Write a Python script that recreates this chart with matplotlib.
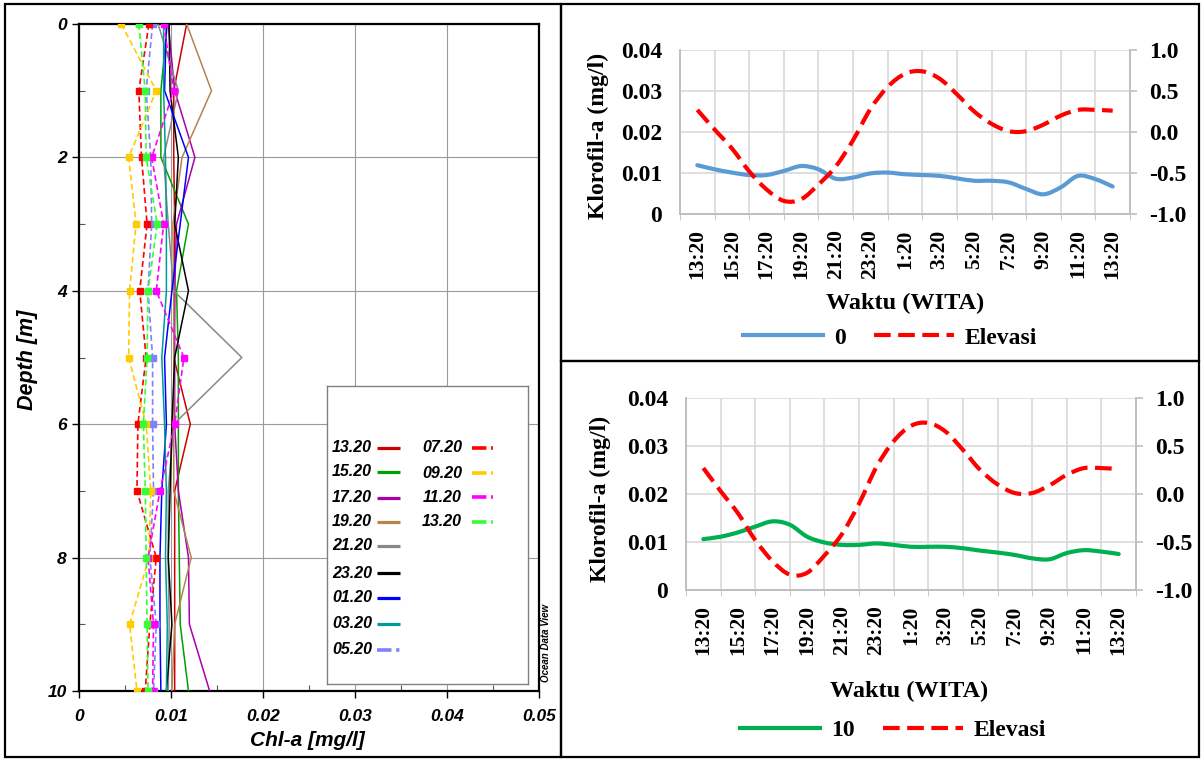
import matplotlib
matplotlib.use("Agg")
import matplotlib.pyplot as plt
from matplotlib.patches import Rectangle, PathPatch
from matplotlib.path import Path
from matplotlib.lines import Line2D

plt.rcParams['axes.unicode_minus'] = False

W, H = 1202, 760

# ---- vertical profiles (left panel), chl-a [mg/l] at each depth ----
depth = [0, 1, 2, 3, 4, 5, 6, 7, 8, 9, 10]

p_1320 = [0.0117, 0.0103, 0.0103, 0.0104, 0.0104, 0.0103, 0.0121, 0.0104, 0.0104, 0.0104, 0.0104]
p_1520 = [0.0096, 0.0089, 0.0089, 0.0119, 0.0106, 0.0108, 0.0108, 0.0108, 0.0109, 0.0110, 0.0119]
p_1720 = [0.0097, 0.0104, 0.0126, 0.0106, 0.0104, 0.0104, 0.0104, 0.0108, 0.0119, 0.0120, 0.0142]
p_1920 = [0.0117, 0.0144, 0.0112, 0.0102, 0.0103, 0.0103, 0.0103, 0.0103, 0.0122, 0.0104, 0.0101]
p_2120 = [0.0086, 0.0108, 0.0092, 0.0097, 0.0103, 0.0177, 0.0103, 0.0097, 0.0097, 0.0098, 0.0097]
p_2320 = [0.0098, 0.0099, 0.0108, 0.0104, 0.0119, 0.0104, 0.0101, 0.0099, 0.0097, 0.0101, 0.0095]
p_0120 = [0.0095, 0.0093, 0.0119, 0.0110, 0.0101, 0.0093, 0.0095, 0.0090, 0.0088, 0.0088, 0.0089]
p_0320 = [0.0092, 0.0092, 0.0094, 0.0095, 0.0095, 0.0090, 0.0093, 0.0095, 0.0094, 0.0096, 0.0095]
p_0520 = [0.0080, 0.0073, 0.0078, 0.0079, 0.0075, 0.0080, 0.0080, 0.0081, 0.0077, 0.0084, 0.0081]
p_0720 = [0.0076, 0.0065, 0.0068, 0.0074, 0.0066, 0.0073, 0.0064, 0.0063, 0.0084, 0.0077, 0.0072]
p_0920 = [0.0046, 0.0084, 0.0054, 0.0062, 0.0055, 0.0054, 0.0073, 0.0078, 0.0076, 0.0055, 0.0063]
p_1120 = [0.0092, 0.0103, 0.0079, 0.0092, 0.0084, 0.0114, 0.0104, 0.0088, 0.0075, 0.0081, 0.0080]
p_1320b = [0.0065, 0.0072, 0.0073, 0.0085, 0.0075, 0.0074, 0.0070, 0.0072, 0.0073, 0.0074, 0.0075]

profile_labels = ["13.20", "15.20", "17.20", "19.20", "21.20", "23.20", "01.20",
                  "03.20", "05.20", "07.20", "09.20", "11.20", "13.20"]
chl_ticks = [0, 0.01, 0.02, 0.03, 0.04, 0.05]
chl_ticklabels = ["0", "0.01", "0.02", "0.03", "0.04", "0.05"]
depth_ticks = [0, 2, 4, 6, 8, 10]

# ---- time series (right panels), hourly from 13:20 ----
hours = list(range(25))
time_ticks = list(range(0, 25, 2))
time_labels = ["13:20", "15:20", "17:20", "19:20", "21:20", "23:20", "1:20",
               "3:20", "5:20", "7:20", "9:20", "11:20", "13:20"]
chl_0m = [0.0119, 0.0109, 0.0101, 0.0095, 0.0095, 0.0105, 0.0117, 0.0109, 0.0086,
          0.0089, 0.0099, 0.0101, 0.0097, 0.0095, 0.0093, 0.0087, 0.0081, 0.0081,
          0.0077, 0.0061, 0.0048, 0.0065, 0.0093, 0.0085, 0.0067]
chl_10m = [0.0106, 0.0111, 0.0120, 0.0132, 0.0143, 0.0136, 0.0111, 0.0099, 0.0094,
           0.0094, 0.0097, 0.0094, 0.0090, 0.0090, 0.0090, 0.0087, 0.0082, 0.0078,
           0.0073, 0.0066, 0.0064, 0.0077, 0.0083, 0.0080, 0.0075]
elevasi = [0.27, 0.03, -0.20, -0.48, -0.70, -0.84, -0.82, -0.64, -0.42, -0.10, 0.28,
           0.55, 0.71, 0.74, 0.65, 0.46, 0.25, 0.10, 0.01, 0.01, 0.09, 0.20, 0.27,
           0.27, 0.26]
klo_ticks = [0, 0.01, 0.02, 0.03, 0.04]
klo_ticklabels = ["0", "0.01", "0.02", "0.03", "0.04"]
elev_ticks = [-1.0, -0.5, 0.0, 0.5, 1.0]
elev_ticklabels = ["-1.0", "-0.5", "0.0", "0.5", "1.0"]


def box(x0, y0, x1, y1):
    return [x0 / W, 1 - y1 / H, (x1 - x0) / W, (y1 - y0) / H]


def smooth_path(x, y):
    # Excel-like smoothed line: Catmull-Rom segments drawn as cubic Beziers
    n = len(x)
    verts = [(x[0], y[0])]
    codes = [Path.MOVETO]
    for i in range(n - 1):
        x0, y0 = (x[i - 1], y[i - 1]) if i > 0 else (x[i], y[i])
        x3, y3 = (x[i + 2], y[i + 2]) if i + 2 < n else (x[i + 1], y[i + 1])
        c1 = (x[i] + (x[i + 1] - x0) / 6, y[i] + (y[i + 1] - y0) / 6)
        c2 = (x[i + 1] - (x3 - x[i]) / 6, y[i + 1] - (y3 - y[i]) / 6)
        verts += [c1, c2, (x[i + 1], y[i + 1])]
        codes += [Path.CURVE4] * 3
    return Path(verts, codes)


fig = plt.figure(figsize=(W / 100, H / 100), dpi=100)

# ================= left panel (ODV style profile plot) =================
odv = dict(family="Liberation Sans", weight="bold", style="italic")
profiles = [p_1320, p_1520, p_1720, p_1920, p_2120, p_2320, p_0120, p_0320,
            p_0520, p_0720, p_0920, p_1120, p_1320b]
pcolors = ["#CC0000", "#00A000", "#AA00AA", "#B5834E", "#888888", "#000000",
           "#0000FF", "#009999", "#8080FF", "#FF0000", "#FFCC00", "#FF00FF", "#33FF33"]
n_solid = 8

ax = fig.add_axes(box(79, 24, 539, 691))
for i, (vals, c) in enumerate(zip(profiles, pcolors)):
    if i < n_solid:
        ax.plot(vals, depth, color=c, lw=1.1, zorder=3)
    else:
        ax.plot(vals, depth, color=c, lw=1.2, ls=(0, (3.5, 2)), marker="s",
                ms=4.5, mec=c, mfc=c, zorder=4)

ax.set_xlim(0, 0.05)
ax.set_ylim(10, 0)
ax.set_xticks(chl_ticks)
ax.set_xticklabels(chl_ticklabels)
ax.set_yticks(depth_ticks)
ax.set_yticklabels([str(d) for d in depth_ticks])
ax.set_xticks([0.005, 0.015, 0.025, 0.035, 0.045], minor=True)
ax.set_yticks([1, 3, 5, 7, 9], minor=True)
ax.grid(True, which="major", color="#9A9A9A", lw=0.8, zorder=0)
ax.tick_params(which="major", direction="out", length=5, width=1, pad=8)
ax.tick_params(axis="y", which="major", pad=4)
ax.tick_params(which="minor", direction="in", length=4, width=0.8, color="#555555")
for lab in ax.get_xticklabels() + ax.get_yticklabels():
    lab.set_fontproperties(dict(odv, size=12.5))
for s in ax.spines.values():
    s.set_linewidth(1.6)
    s.set_color("black")

fig.text(307 / W, 1 - 741 / H, "Chl-a [mg/l]", ha="center", va="center", size=15, **odv)
fig.text(27 / W, 1 - 360 / H, "Depth [m]", ha="center", va="center", rotation=90,
         size=15.5, **odv)
fig.text(546 / W, 1 - 643 / H, "Ocean Data View", ha="center", va="center",
         rotation=90, size=7, **odv)

# legend box drawn by hand (ODV layout: text before sample)
lax = fig.add_axes(box(327, 386, 528, 684))
lax.set_xlim(327, 528)
lax.set_ylim(684, 386)
lax.set_xticks([])
lax.set_yticks([])
for s in lax.spines.values():
    s.set_color("#808080")
    s.set_linewidth(1)
rows_left = [448, 472, 498, 522, 546, 573, 598, 624, 650]
rows_right = [448, 473, 497, 522]
rows = [(372, 377, 400, y) for y in rows_left] + [(462, 472, 493, y) for y in rows_right]
for i, (lab, c, (tx, lx0, lx1, y)) in enumerate(zip(profile_labels, pcolors, rows)):
    lax.text(tx, y, lab, ha="right", va="center", size=11.5, **odv)
    if i < n_solid:
        lax.plot([lx0, lx1], [y, y], color=c, lw=2.3, solid_capstyle="butt")
    else:
        lax.plot([lx0, lx1], [y, y], color=c, lw=2.6, ls=(0, (4, 1.3, 0.9, 1.3)),
                 dash_capstyle="butt")

# ================= right panels (Excel style time series) =================
serif = dict(family="Liberation Serif", weight="bold")
grid_c = "#D9D9D9"
spine_c = "#BFBFBF"
fs = 17
elev_ls = (0, (4, 1.8))


def series_panel(rect, chl, chl_color, chl_name, ylab_xy, xlab_xy, leg_xy):
    a = fig.add_axes(rect)
    a2 = a.twinx()
    a.add_patch(PathPatch(smooth_path(hours, chl), fill=False, edgecolor=chl_color,
                          lw=3, capstyle="round", joinstyle="round", zorder=3))
    a2.add_patch(PathPatch(smooth_path(hours, elevasi), fill=False, edgecolor="#FF0000",
                           lw=3, linestyle=elev_ls, capstyle="butt", zorder=3))

    a.set_xlim(-1, 25)
    a.set_ylim(0, 0.04)
    a2.set_ylim(-1, 1)
    a.set_xticks(time_ticks)
    a.set_xticklabels(time_labels, rotation=90)
    a.set_xticks(list(range(-1, 26, 2)), minor=True)
    a.set_yticks(klo_ticks)
    a.set_yticklabels(klo_ticklabels)
    a2.set_yticks(elev_ticks)
    a2.set_yticklabels(elev_ticklabels)

    a.grid(True, axis="y", color=grid_c, lw=1.2, zorder=0)
    a.grid(True, axis="x", which="minor", color=grid_c, lw=1.2, zorder=0)
    a.tick_params(axis="x", which="major", length=0, pad=11)
    a.tick_params(axis="x", which="minor", length=4, color=spine_c)
    a.tick_params(axis="y", length=0, pad=13)
    a2.tick_params(axis="y", length=5, color=spine_c, width=1.2, pad=9)
    for lab in a.get_xticklabels():
        lab.set_fontproperties(dict(serif, size=15.5))
    for lab in a.get_yticklabels() + a2.get_yticklabels():
        lab.set_fontproperties(dict(serif, size=fs))
    for axx in (a, a2):
        axx.spines["top"].set_visible(False)
        for k in ("left", "right", "bottom"):
            axx.spines[k].set_color(spine_c)
            axx.spines[k].set_linewidth(1.2)

    fig.text(ylab_xy[0] / W, 1 - ylab_xy[1] / H, "Klorofil-a (mg/l)", rotation=90,
             ha="center", va="center", size=fs, **serif)
    fig.text(xlab_xy[0] / W, 1 - xlab_xy[1] / H, "Waktu (WITA)", ha="center",
             va="center", size=fs + 0.5, **serif)
    h1 = Line2D([], [], color=chl_color, lw=3)
    h2 = Line2D([], [], color="#FF0000", lw=3, ls=elev_ls)
    a.legend([h1, h2], [chl_name, "Elevasi"], loc="center",
             bbox_to_anchor=(leg_xy[0] / W, 1 - leg_xy[1] / H),
             bbox_transform=fig.transFigure, ncol=2, frameon=False,
             handlelength=3.4, handletextpad=0.45, columnspacing=1.2,
             prop=dict(serif, size=fs))
    return a


series_panel(box(680, 50, 1130, 214), chl_0m, "#5B9BD5", "0",
             (598, 136), (905, 303), (890, 338))
series_panel(box(686, 398, 1136, 590), chl_10m, "#00B050", "10",
             (600, 499), (909, 691), (893, 730))

# ================= panel frames =================
for (x0, y0, x1, y1) in [(5, 4, 561, 757), (561, 4, 1199, 361), (561, 361, 1199, 757)]:
    fig.add_artist(Rectangle((x0 / W, 1 - y1 / H), (x1 - x0) / W, (y1 - y0) / H,
                             transform=fig.transFigure, fill=False,
                             edgecolor="black", lw=1.6))

fig.savefig("out.png", dpi=100)
